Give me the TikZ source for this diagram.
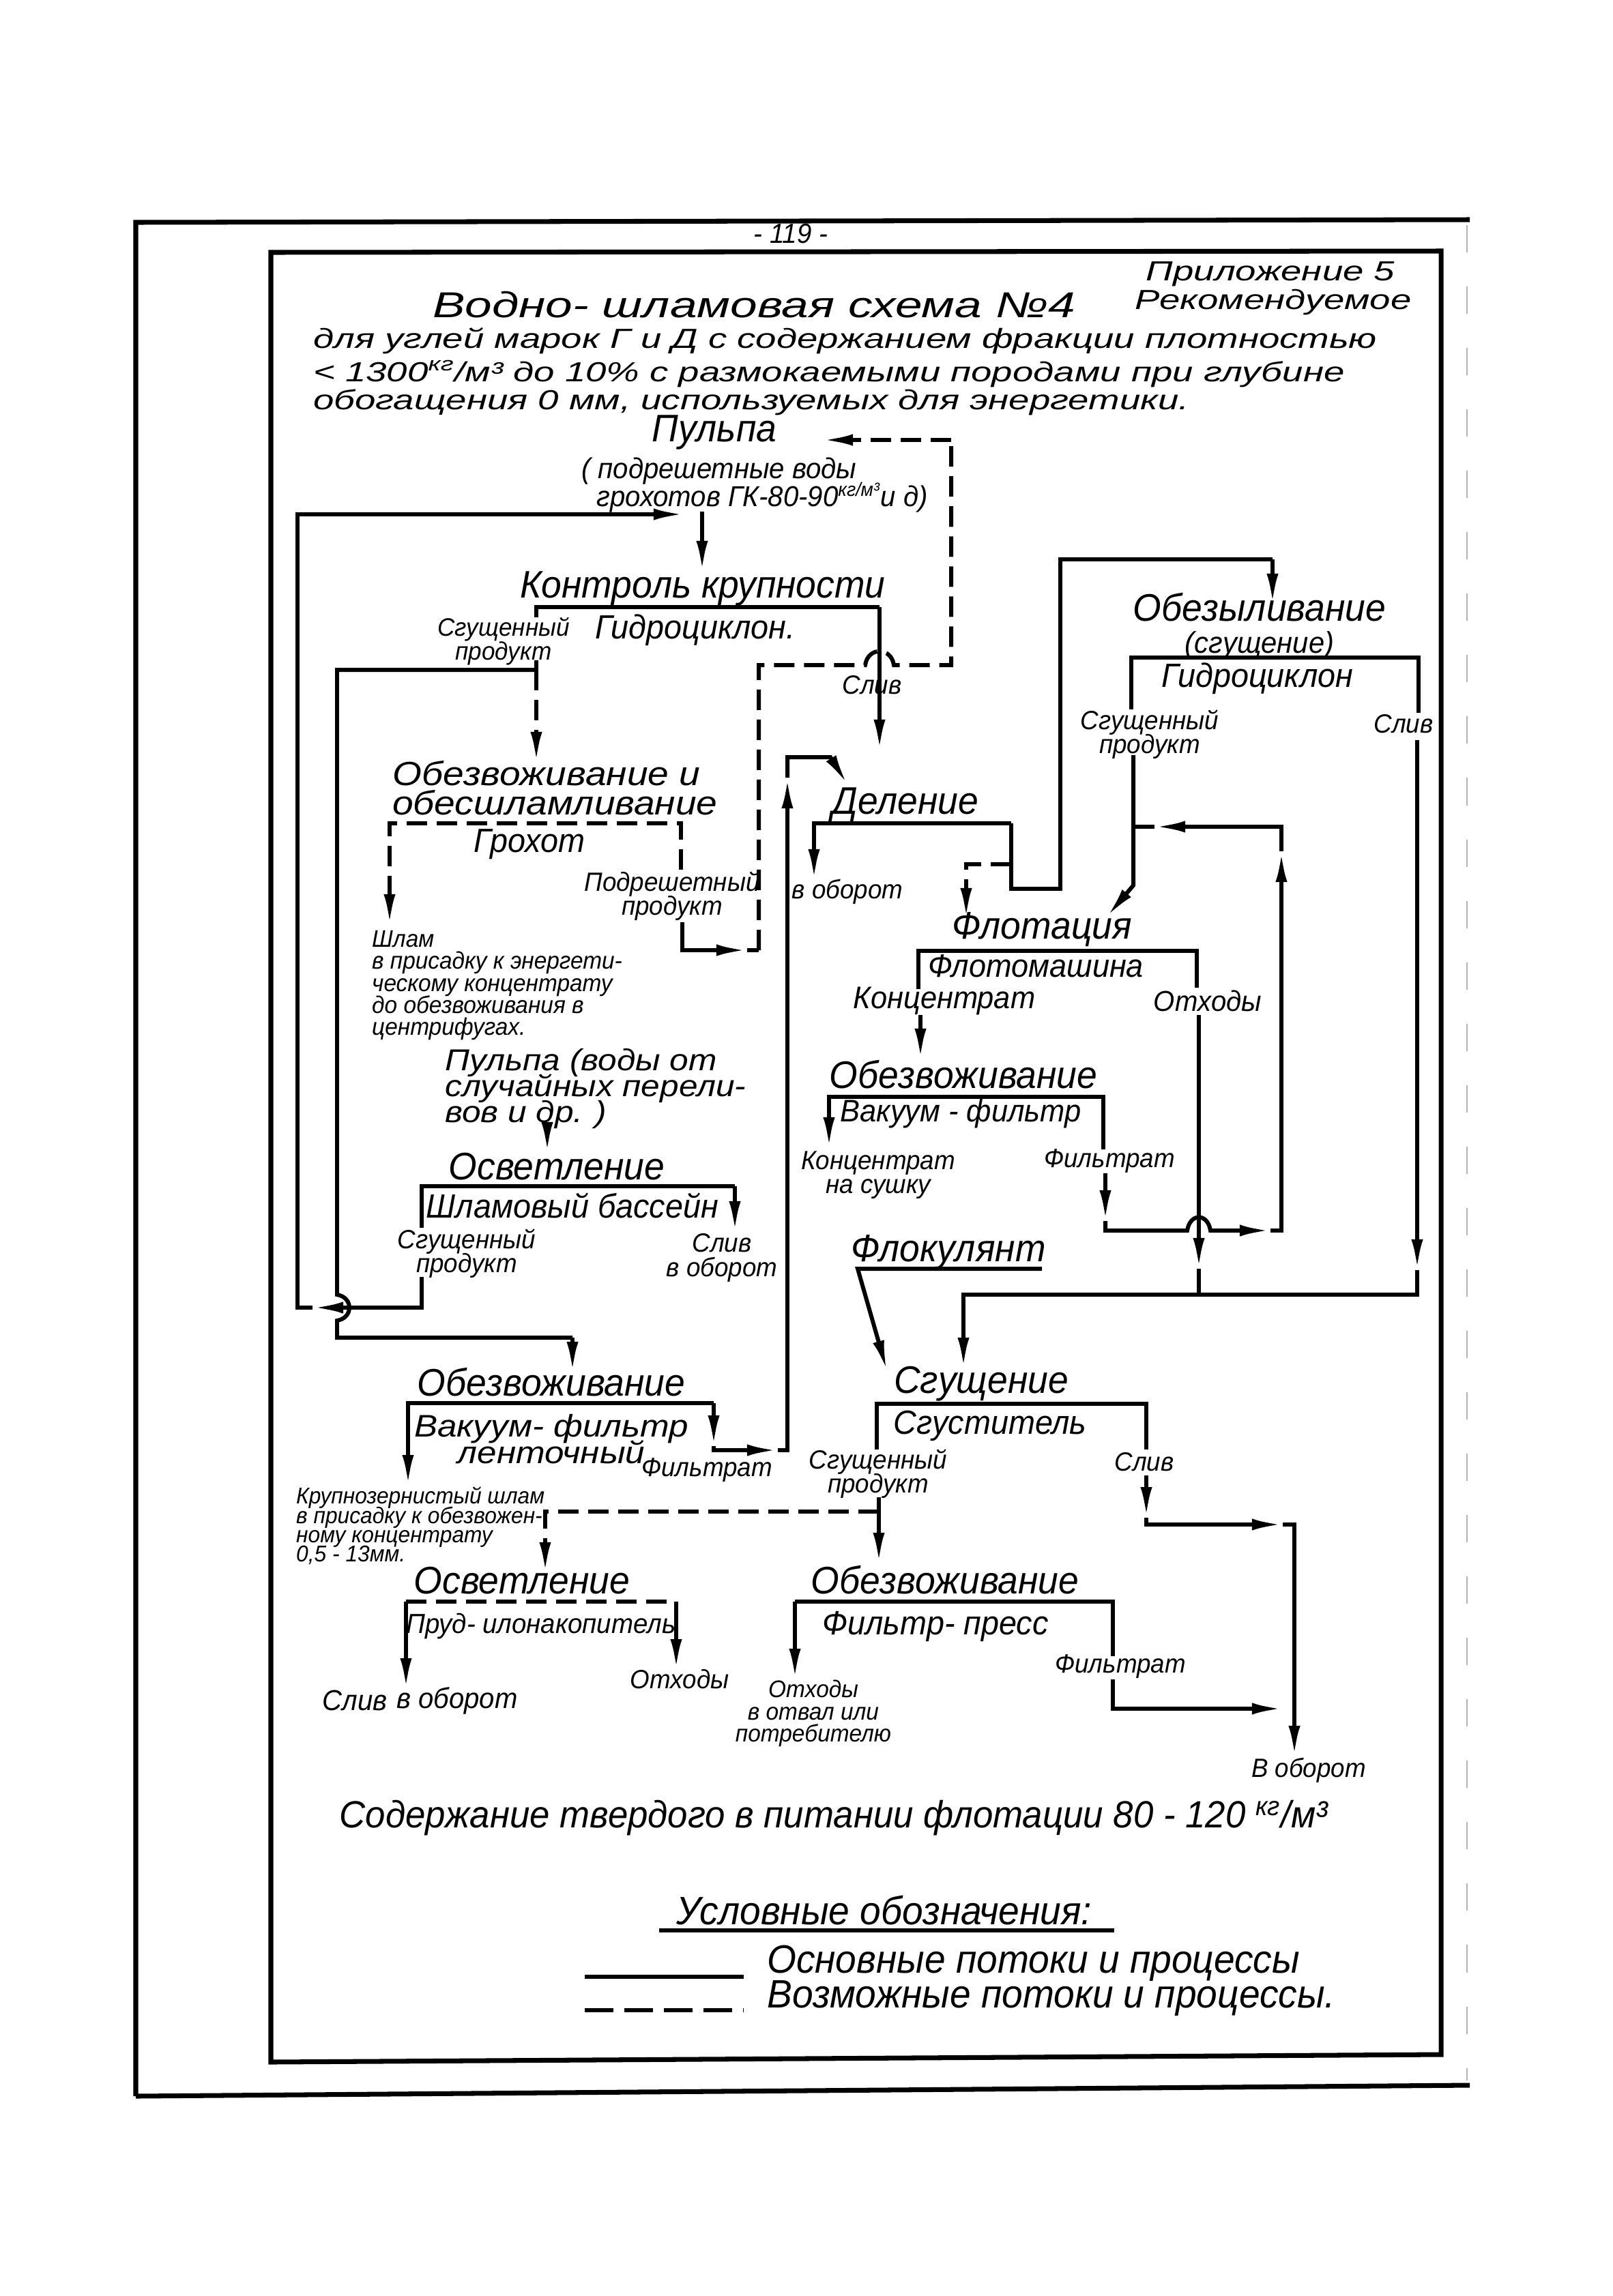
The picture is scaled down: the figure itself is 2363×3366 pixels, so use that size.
\documentclass[tikz,border=0pt]{standalone}
\usepackage{fontspec}
\newfontfamily\handn{Liberation Sans}[FakeStretch=0.95]
\newfontfamily\handm{Liberation Sans}[FakeStretch=1.12]
\newfontfamily\handw{Liberation Sans}[FakeStretch=1.35]
\usetikzlibrary{arrows.meta}
\newcommand\hf[2]{\handn\itshape\fontsize{#1}{#2}\selectfont\lineskiplimit=-30pt\relax}
\newcommand\hm[2]{\handm\itshape\fontsize{#1}{#2}\selectfont\lineskiplimit=-30pt\relax}
\newcommand\hw[2]{\handw\itshape\fontsize{#1}{#2}\selectfont\lineskiplimit=-30pt\relax}

\tikzset{
  every node/.style={inner sep=1pt},
  ttl/.style={font=\hw{15}{15}},
  subw/.style={font=\hw{11.5}{12}},
  hd/.style={font=\hf{16}{12.5}},
  md/.style={font=\hf{14}{11}},
  sm/.style={font=\hf{11}{10}},
  tiny/.style={font=\hf{10}{9.2}},
  bt/.style={font=\hf{16.5}{17}},
  flow/.style={line width=1.7pt},
  poss/.style={line width=1.7pt,dash pattern=on 0.3cm off 0.14cm},
  tip/.style={-{Latex[length=4.5mm,width=1.7mm]}},
  frm/.style={line width=2pt},
}

\begin{document}
\begin{tikzpicture}[x=0.01cm,y=-0.01cm]
  \fill[white] (0,0) rectangle (2363,3366);
  \useasboundingbox (0,0) rectangle (2363,3366);

  \draw[frm] (199,3073) -- (199,326) -- (2154,322);
  \draw[frm] (199,3073) -- (2154,3057);
  \draw[gray!60,line width=0.6pt,dash pattern=on 0.4cm off 0.5cm] (2150,330) -- (2150,3050);
  \draw[frm] (397,3023) -- (397,370) -- (2112,368) -- (2112,3012) -- cycle;

  \node[font=\hf{11.5}{11}] (pnum) at (1159,343) {- 119 -};
  \node[subw] (pril) at (1862,402) {Приложение 5};
  \node[subw] (rekom) at (1866,443) {Рекомендуемое};
  \node[ttl] (title) at (1105,447) {Водно- шламовая схема №4};
  \node[subw,anchor=west] (sub1) at (455,500) {для углей марок Г и Д с содержанием фракции плотностью};
  \node[subw,anchor=west] (sub2) at (455,548) {< 1300\textsuperscript{кг}/м³ до 10\% с размокаемыми породами при глубине};
  \node[subw,anchor=west] (sub3) at (455,590) {обогащения 0 мм, используемых для энергетики.};

  \node[hd] (pulpa) at (1047,634) {Пульпа};
  \node[font=\hf{12}{11.8},align=left,anchor=west] (pulpa2) at (848,711) {( подрешетные воды\\\ \ грохотов ГК-80-90\textsuperscript{кг/м³}и д)};
  \draw[flow,tip] (1029,750) -- (1029,838);

  \node[hd] (kk) at (1030,863) {Контроль крупности};
  \node[md] (kkg) at (1019,924) {Гидроциклон.};
  \node[font=\hf{10.5}{10},align=center] (kks) at (738,940) {Сгущенный\\продукт};
  \node[sm] (kksl) at (1278,1004) {Слив};
  \draw[flow] (786,905) -- (786,890) -- (1289,890);
  \draw[flow,tip] (1289,890) -- (1289,1100);
  \draw[flow] (786,968) -- (786,982);
  \draw[poss,tip] (786,982) -- (786,1118);
  \draw[flow] (786,982) -- (494,982) -- (494,1898) .. controls (518,1902) and (518,1932) .. (494,1936) -- (494,1961) -- (839,1961);
  \draw[flow,tip] (839,1961) -- (839,2012);

  \node[font=\hm{14}{12.3},align=left,anchor=west] (obo) at (571,1155) {Обезвоживание и\\обесшламливание};
  \draw[poss,tip] (998,1275) -- (998,1207) -- (571,1207) -- (571,1356);
  \node[md] (groh) at (776,1238) {Грохот};
  \node[sm,align=center] (podr) at (985,1314) {Подрешетный\\продукт};
  \node[tiny,align=left,anchor=north west] (shlam) at (541,1360) {Шлам\\в присадку к энергети-\\ческому концентрату\\до обезвоживания в\\центрифугах.};
  \draw[flow,tip] (1000,1352) -- (1000,1393) -- (1095,1393);
  \draw[flow] (1095,1393) -- (1112,1393);
  \draw[poss] (1112,1393) -- (1112,975) -- (1268,975) .. controls (1272,948) and (1306,948) .. (1310,975) -- (1394,975) -- (1394,645);
  \draw[poss,tip] (1394,645) -- (1205,645);

  \node[font=\hm{12.6}{10.8},align=left,anchor=west] (pulpa4) at (648,1596) {Пульпа (воды от\\случайных перели-\\вов и др. )};
  \draw[flow,tip] (802,1648) -- (802,1690);
  \node[hd] (osv) at (816,1710) {Осветление};
  \draw[flow] (618,1800) -- (618,1739) -- (1077,1739);
  \draw[flow,tip] (1077,1739) -- (1077,1806);
  \node[md] (shb) at (839,1768) {Шламовый бассейн};
  \node[sm,align=center] (osvs) at (684,1838) {Сгущенный\\продукт};
  \node[sm,align=center] (osvsl) at (1058,1844) {Слив\\в оборот};
  \draw[flow,tip] (618,1872) -- (618,1917) -- (458,1917);
  \draw[flow,tip] (458,1917) -- (436,1917) -- (436,754) -- (1003,754);

  \node[hd] (del) at (1327,1180) {Деление};
  \draw[flow,tip] (1482,1207) -- (1193,1207) -- (1193,1290);
  \node[sm] (delob) at (1242,1307) {в оборот};
  \draw[flow] (1482,1207) -- (1482,1303) -- (1554,1303) -- (1554,820) -- (1865,820);
  \draw[flow,tip] (1865,820) -- (1865,886);
  \draw[poss,tip] (1482,1267) -- (1416,1267) -- (1416,1347);

  \node[font=\hf{16}{13.4},align=center] (obz) at (1846,918) {Обезыливание\\{\hf{12.5}{13.4}(сгущение)}};
  \draw[flow] (1658,1040) -- (1658,964) -- (2079,964) -- (2079,1045);
  \node[md] (obzg) at (1843,995) {Гидроциклон};
  \node[sm,align=center] (obzs) at (1685,1077) {Сгущенный\\продукт};
  \node[sm] (obzsl) at (2057,1061) {Слив};
  \draw[flow,tip] (1661,1107) -- (1661,1298) -- (1622,1344);
  \draw[flow,tip] (2077,1085) -- (2077,1862);
  \draw[flow,tip] (2077,1862) -- (2077,1898) -- (1412,1898) -- (1412,2006);

  \node[hd] (flot) at (1527,1363) {Флотация};
  \draw[flow] (1346,1450) -- (1346,1394) -- (1754,1394) -- (1754,1448);
  \node[font=\hf{13.5}{11}] (flotm) at (1518,1416) {Флотомашина};
  \node[font=\hf{13}{11}] (konc) at (1384,1467) {Концентрат};
  \node[font=\hf{12}{11}] (othod) at (1770,1467) {Отходы};
  \draw[flow,tip] (1349,1488) -- (1349,1553);
  \draw[flow,tip] (1757,1488) -- (1757,1860);
  \draw[flow] (1757,1860) -- (1757,1898);

  \node[hd] (obv) at (1412,1575) {Обезвоживание};
  \draw[flow,tip] (1617,1685) -- (1617,1608) -- (1215,1608) -- (1215,1683);
  \node[font=\hf{13}{11}] (vak) at (1408,1633) {Вакуум - фильтр};
  \node[sm,align=center] (konc2) at (1287,1723) {Концентрат\\на сушку};
  \node[sm] (filtr) at (1626,1702) {Фильтрат};
  \draw[flow,tip] (1620,1720) -- (1620,1790);
  \draw[flow,tip] (1620,1790) -- (1620,1804) -- (1740,1804) .. controls (1744,1778) and (1770,1778) .. (1774,1804) -- (1862,1804);
  \draw[flow,tip] (1862,1804) -- (1878,1804) -- (1878,1248);
  \draw[flow,tip] (1878,1248) -- (1878,1212) -- (1692,1212);
  \draw[flow] (1692,1212) -- (1661,1212);

  \node[hd] (flok) at (1390,1836) {Флокулянт};
  \draw[flow,tip] (1527,1860) -- (1257,1860) -- (1300,2010);

  \node[hd] (sg) at (1438,2029) {Сгущение};
  \draw[flow] (1285,2125) -- (1285,2058) -- (1680,2058) -- (1680,2125);
  \node[md] (sgst) at (1451,2090) {Сгуститель};
  \node[sm,align=center] (sgs) at (1287,2161) {Сгущенный\\продукт};
  \node[sm] (sgsl) at (1677,2143) {Слив};
  \draw[flow,tip] (1680,2163) -- (1680,2225);
  \draw[flow,tip] (1680,2225) -- (1680,2235) -- (1880,2235);
  \draw[flow,tip] (1880,2235) -- (1897,2235) -- (1897,2575);
  \draw[flow,tip] (1288,2195) -- (1288,2292);
  \draw[poss,tip] (1288,2216) -- (799,2216) -- (799,2306);

  \node[hd] (obl) at (808,2026) {Обезвоживание};
  \draw[flow,tip] (1046,2057) -- (598,2057) -- (598,2178);
  \draw[flow,tip] (1046,2057) -- (1046,2120);
  \draw[flow,tip] (1046,2120) -- (1046,2126) -- (1140,2126);
  \draw[flow,tip] (1140,2126) -- (1154,2126) -- (1154,1140);
  \draw[flow,tip] (1154,1140) -- (1154,1110) -- (1217,1110) -- (1242,1150);
  \node[font=\hm{13}{11.1},align=center] (vakl) at (808,2110) {Вакуум- фильтр\\ленточный};
  \node[sm] (filtr2) at (1036,2155) {Фильтрат};
  \node[font=\hf{9.5}{8},align=left,anchor=north west] (krup) at (430,2176) {Крупнозернистый шлам\\в присадку к обезвожен-\\ному концентрату\\0,5 - 13мм.};

  \node[hd] (osp) at (765,2317) {Осветление};
  \draw[poss] (595,2348) -- (991,2348);
  \draw[flow,tip] (595,2348) -- (595,2476);
  \draw[flow,tip] (991,2348) -- (991,2448);
  \node[font=\hf{11.5}{11}] (prud) at (793,2384) {Пруд- илонакопитель};
  \node[sm] (otx2) at (996,2462) {Отходы};
  \node[font=\hf{12}{11}] (osl) at (520,2493) {Слив};
  \node[font=\hf{12}{11}] (oob) at (670,2493) {в оборот};

  \node[hd] (obf) at (1385,2316) {Обезвоживание};
  \draw[flow] (1631,2428) -- (1631,2348) -- (1165,2348);
  \draw[flow,tip] (1165,2348) -- (1165,2462);
  \node[md] (fpr) at (1371,2385) {Фильтр- пресс};
  \node[sm] (filtr3) at (1642,2443) {Фильтрат};
  \draw[flow,tip] (1631,2462) -- (1631,2505) -- (1880,2505);
  \node[tiny,align=center] (otx3) at (1192,2512) {Отходы\\в отвал или\\потребителю};
  \node[sm] (vob) at (1918,2595) {В оборот};

  \node[font=\hf{15.8}{17}] (sod) at (1222,2665) {Содержание твердого в питании флотации 80 - 120 \textsuperscript{кг}/м³};
  \node[bt] (usl) at (1296,2800) {Условные обозначения:};
  \draw[line width=1.5pt] (966,2830) -- (1633,2830);
  \draw[flow] (857,2898) -- (1090,2898);
  \node[bt,anchor=west] (osn) at (1120,2878) {Основные потоки и процессы};
  \draw[line width=1.7pt,dash pattern=on 0.42cm off 0.16cm] (857,2947) -- (1090,2947);
  \node[bt,anchor=west] (voz) at (1120,2930) {Возможные потоки и процессы.};
\end{tikzpicture}
\end{document}
